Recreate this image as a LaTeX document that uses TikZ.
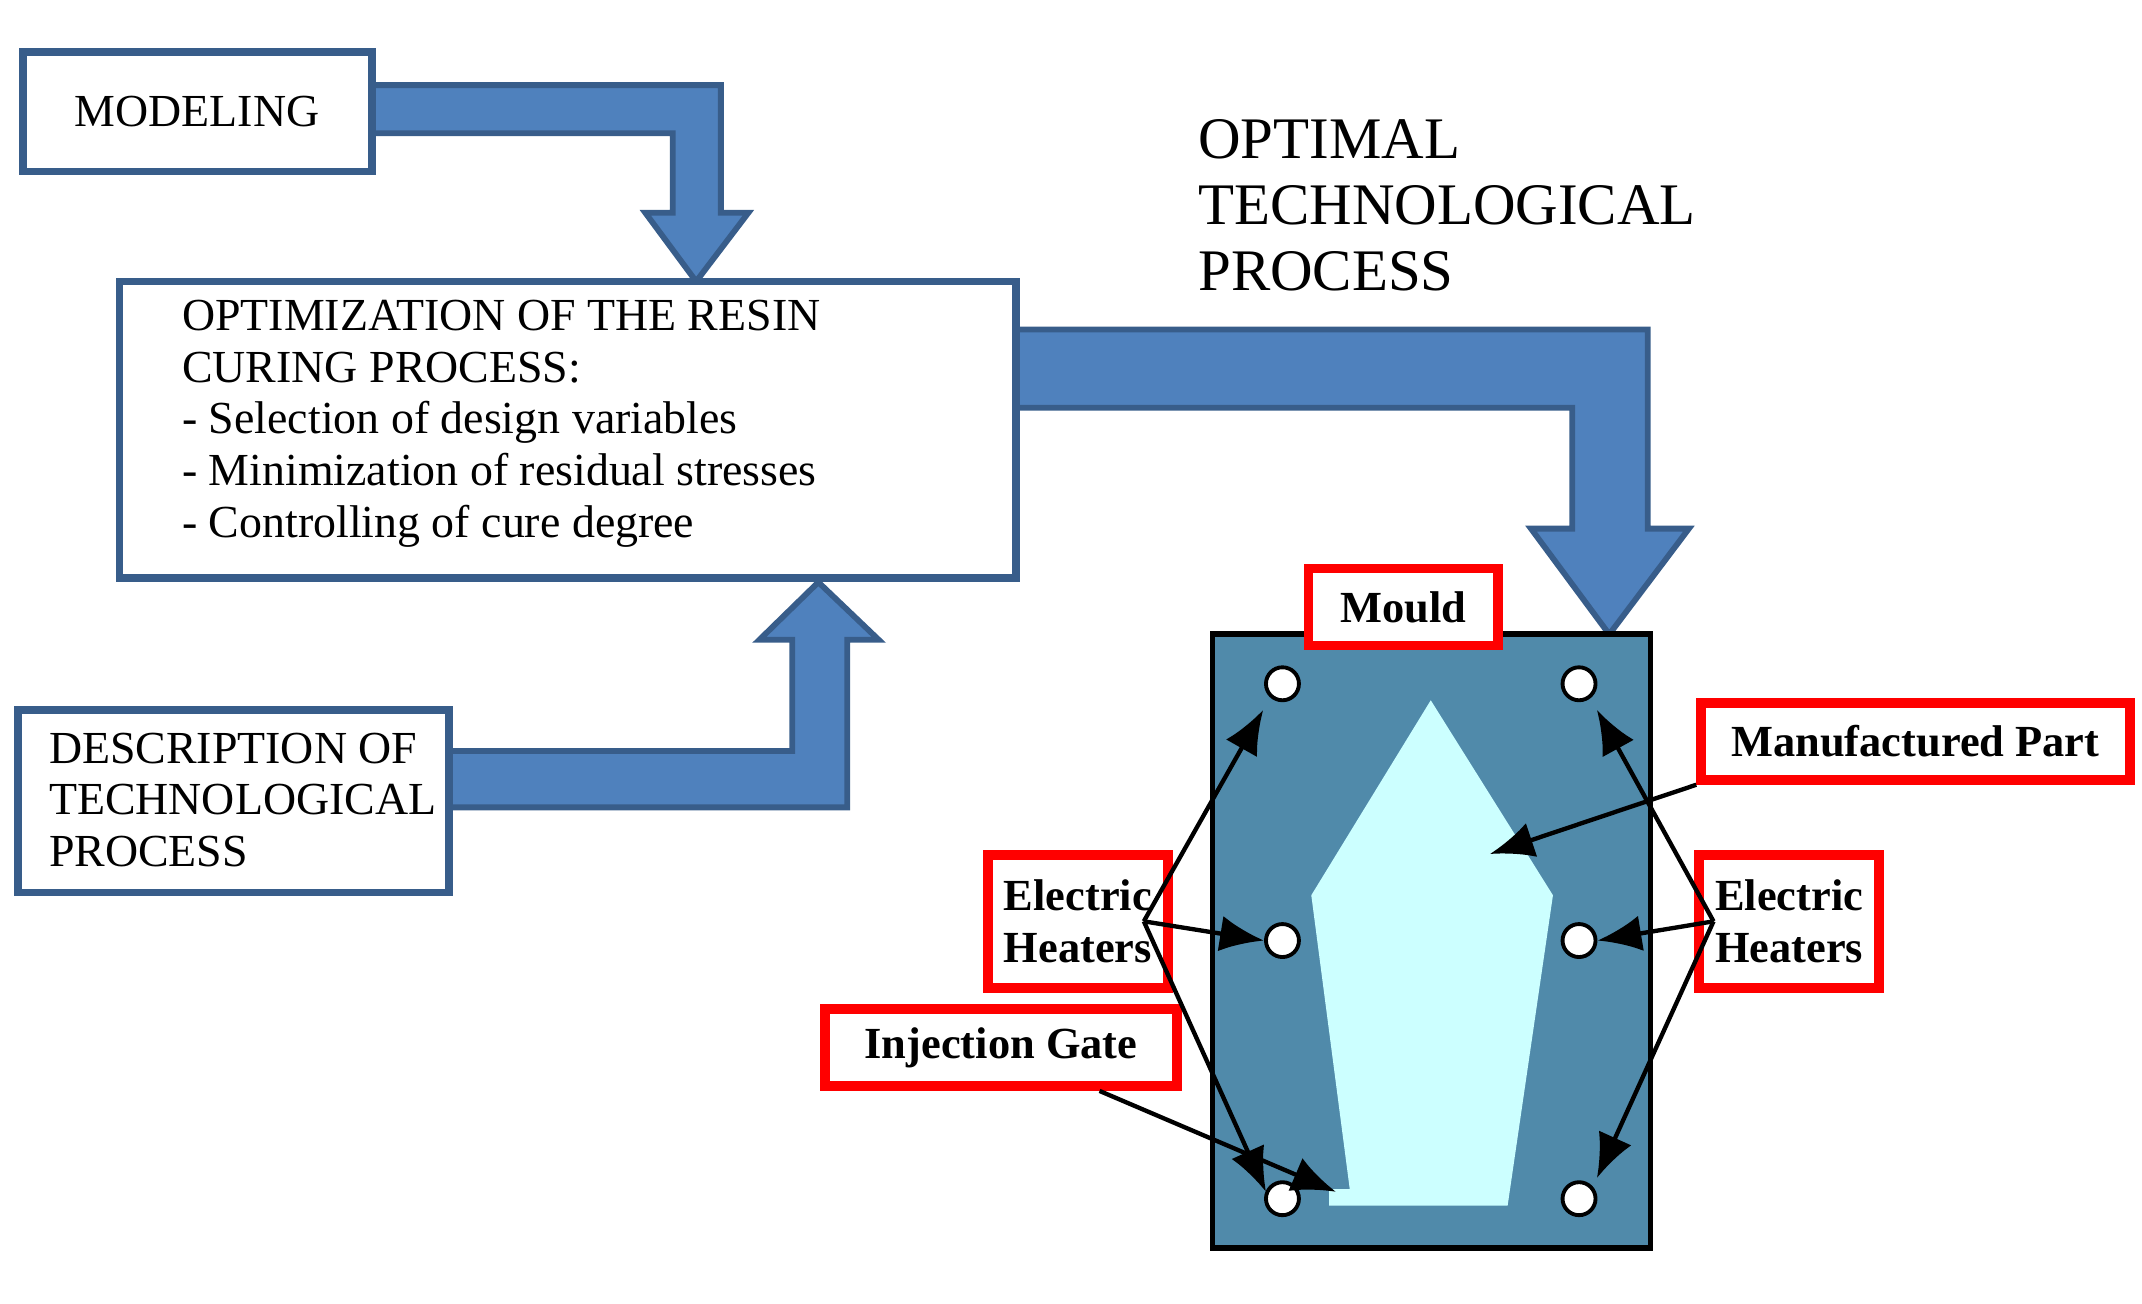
\documentclass[tikz,border=0pt]{standalone}
\usepackage{fontspec}
\setmainfont{Liberation Serif}
\usepackage{tikz}
\usetikzlibrary{arrows.meta}
\definecolor{bluearrow}{RGB}{79,129,189}
\definecolor{bluedge}{RGB}{56,93,138}
\definecolor{mouldblue}{RGB}{80,138,170}
\definecolor{partcyan}{RGB}{204,255,255}
\tikzset{
    bigarrow/.style={fill=bluearrow,draw=bluedge,line width=1.2pt},
    stepbox/.style={draw=bluedge,line width=1.6pt,fill=white},
    tag/.style={draw=red,line width=2pt,fill=white,font=\bfseries\fontsize{9.2}{10.6}\selectfont},
    heater/.style={circle,draw=black,fill=white,line width=0.8pt,minimum size=0.24cm,inner sep=0pt},
    pointer/.style={-{Latex[length=3.2mm,width=2.6mm]},line width=0.9pt}
  }

\begin{document}
\begin{tikzpicture}[x=0.01cm,y=-0.01cm,
             % text sizes of the flow chart
             every node/.style={font=\fontsize{9.5}{10.7}\selectfont}
     ]
 \useasboundingbox (0,0) rectangle (1560,949);
 %Block arrows
     \draw[bigarrow] (271,62) -- (525,62) -- (525,155) -- (545,155) -- (507,205)
        -- (470,155) -- (490,155) -- (490,97) -- (271,97) -- cycle;
     \draw[bigarrow] (740,240) -- (1200,240) -- (1200,385) -- (1230,385) -- (1172,462)
        -- (1115,385) -- (1145,385) -- (1145,297) -- (740,297) -- cycle;
     \draw[bigarrow] (327,547) -- (577,547) -- (577,466) -- (553,466) -- (596,424)
        -- (640,466) -- (617,466) -- (617,588) -- (327,588) -- cycle;
 %Boxes
     \draw[stepbox] (17,38) rectangle (271,125);
     \node[anchor=west] (model) at (42,81) {MODELING};
     \draw[stepbox] (87,205) rectangle (740,421);
     \node[anchor=north west,align=left,inner sep=0pt,
           font=\fontsize{9.5}{10.7}\selectfont] (optim) at (132,218)
        {OPTIMIZATION OF THE RESIN\\CURING PROCESS:\\- Selection of design variables\\
         - Minimization of residual stresses\\- Controlling of cure degree};
     \draw[stepbox] (13,517) rectangle (327,650);
     \node[anchor=north west,align=left,inner sep=0pt] (descr) at (35,533)
        {DESCRIPTION OF\\TECHNOLOGICAL\\PROCESS};
     \node[anchor=north west,align=left,inner sep=0pt,
           font=\fontsize{12.2}{13.7}\selectfont] (optimal) at (872,86)
        {OPTIMAL\\TECHNOLOGICAL\\PROCESS};
 %Mould
     \draw[fill=mouldblue,draw=black,line width=1.2pt] (883,462) rectangle (1202,909);
     \fill[partcyan] (1042,510) -- (1131,652) -- (1098,878) -- (968,878) -- (968,866)
        -- (983,866) -- (955,652) -- cycle;
     \node[heater] (h1) at (934,498) {};
     \node[heater] (h2) at (1150,498) {};
     \node[heater] (h3) at (934,685) {};
     \node[heater] (h4) at (1150,685) {};
     \node[heater] (h5) at (934,873) {};
     \node[heater] (h6) at (1150,873) {};
     \coordinate (part) at (1085,622);
     \coordinate (gate) at (973,868);
 %Labels
     \node[tag,minimum width=1.38cm,minimum height=0.56cm] (mould) at (1022,442) {Mould};
     \node[tag,minimum width=3.12cm,minimum height=0.56cm] (manuf) at (1395,540) {Manufactured Part};
     \node[tag,align=left,minimum width=1.28cm,minimum height=0.97cm] (ehl) at (785,671) {Electric\\Heaters};
     \node[tag,align=left,minimum width=1.28cm,minimum height=0.97cm] (ehr) at (1303,671) {Electric\\Heaters};
     \node[tag,minimum width=2.56cm,minimum height=0.56cm] (inject) at (729,763) {Injection Gate};
 %Pointers
     \draw[pointer] ([xshift=-6]ehl.east) -- ([shift={(-14,19)}]h1.center);
     \draw[pointer] ([xshift=-6]ehl.east) -- (h3.west);
     \draw[pointer] ([xshift=-6]ehl.east) -- ([shift={(-12,-5)}]h5.center);
     \draw[pointer] ([xshift=4]ehr.west) -- ([shift={(13,19)}]h2.center);
     \draw[pointer] ([xshift=4]ehr.west) -- (h4.east);
     \draw[pointer] ([xshift=4]ehr.west) -- ([shift={(13,-15)}]h6.center);
     \draw[pointer] (manuf.south west) -- (part);
     \draw[pointer] ([xshift=-17]inject.south east) -- (gate);
 \end{tikzpicture}
\end{document}
